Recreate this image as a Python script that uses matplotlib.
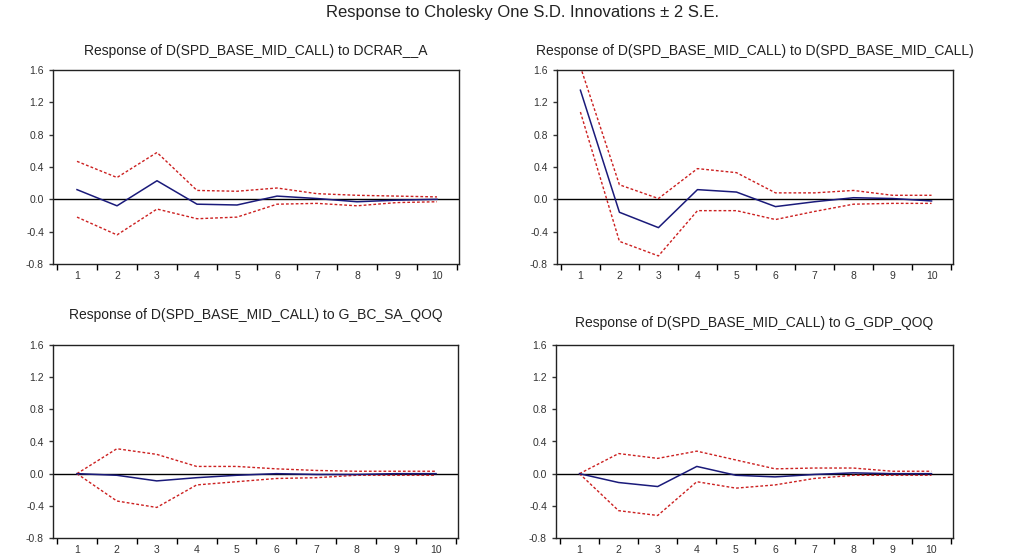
import matplotlib
matplotlib.use("Agg")
import matplotlib.pyplot as plt
import numpy as np

plt.rcParams['font.family'] = ['Liberation Sans', 'DejaVu Sans']

periods = [1, 2, 3, 4, 5, 6, 7, 8, 9, 10]

main_title = "Response to Cholesky One S.D. Innovations \u00b1 2 S.E."
titles = [
    "Response of D(SPD_BASE_MID_CALL) to DCRAR__A",
    "Response of D(SPD_BASE_MID_CALL) to D(SPD_BASE_MID_CALL)",
    "Response of D(SPD_BASE_MID_CALL) to G_BC_SA_QOQ",
    "Response of D(SPD_BASE_MID_CALL) to G_GDP_QOQ",
]

# Panel 1: DCRAR__A
resp_dcrar = [0.12, -0.08, 0.23, -0.06, -0.07, 0.04, 0.01, -0.03, -0.01, 0.00]
upper_dcrar = [0.47, 0.27, 0.58, 0.11, 0.10, 0.14, 0.07, 0.05, 0.04, 0.03]
lower_dcrar = [-0.22, -0.44, -0.12, -0.24, -0.22, -0.06, -0.05, -0.08, -0.04, -0.03]

# Panel 2: D(SPD_BASE_MID_CALL)
resp_spd = [1.35, -0.16, -0.35, 0.12, 0.09, -0.09, -0.03, 0.02, 0.01, -0.02]
upper_spd = [1.64, 0.18, 0.01, 0.38, 0.33, 0.08, 0.08, 0.11, 0.05, 0.05]
lower_spd = [1.08, -0.52, -0.70, -0.14, -0.14, -0.25, -0.15, -0.06, -0.05, -0.05]

# Panel 3: G_BC_SA_QOQ
resp_bc = [0.00, -0.02, -0.09, -0.05, -0.02, 0.00, -0.01, -0.01, 0.00, 0.00]
upper_bc = [0.00, 0.31, 0.24, 0.09, 0.09, 0.06, 0.04, 0.03, 0.03, 0.03]
lower_bc = [0.00, -0.34, -0.42, -0.14, -0.10, -0.06, -0.05, -0.02, -0.02, -0.02]

# Panel 4: G_GDP_QOQ
resp_gdp = [0.00, -0.11, -0.16, 0.09, -0.02, -0.04, -0.01, 0.01, 0.00, 0.00]
upper_gdp = [0.00, 0.25, 0.19, 0.28, 0.17, 0.06, 0.07, 0.07, 0.03, 0.03]
lower_gdp = [0.00, -0.46, -0.52, -0.10, -0.18, -0.14, -0.06, -0.02, -0.02, -0.02]

y_ticks = [-0.8, -0.4, 0.0, 0.4, 0.8, 1.2, 1.6]
y_ticklabels = ["-0.8", "-0.4", "0.0", "0.4", "0.8", "1.2", "1.6"]

panels = [
    (resp_dcrar, upper_dcrar, lower_dcrar),
    (resp_spd, upper_spd, lower_spd),
    (resp_bc, upper_bc, lower_bc),
    (resp_gdp, upper_gdp, lower_gdp),
]

W, H = 1022, 556
fig = plt.figure(figsize=(W / 100, H / 100), dpi=100)

# axes boxes in pixels: left, right, top, bottom
boxes = [
    (53, 459, 70, 264),
    (557, 953, 70, 264),
    (53, 458, 345, 538),
    (556, 953, 345, 538),
]
title_pads = [11, 11, 19, 13]

for i, ((resp, up, lo), (l, r, t, b)) in enumerate(zip(panels, boxes)):
    ax = fig.add_axes([l / W, 1 - b / H, (r - l) / W, (b - t) / H])
    ax.axhline(0, color='black', lw=1.0, zorder=1)
    ax.plot(periods, up, color='#cc2020', lw=1.0, ls=(0, (2, 1.5)), zorder=2)
    ax.plot(periods, lo, color='#cc2020', lw=1.0, ls=(0, (2, 1.5)), zorder=2)
    ax.plot(periods, resp, color='#1a1a7a', lw=1.1, zorder=3)
    ax.set_xlim(0.4, 10.55)
    ax.set_ylim(-0.8, 1.6)
    ax.set_yticks(y_ticks)
    ax.set_yticklabels(y_ticklabels)
    ax.set_xticks(np.arange(0.5, 11, 1.0))
    ax.set_xticklabels([])
    ax.set_xticks(periods, minor=True)
    ax.set_xticklabels([str(p) for p in periods], minor=True)
    ax.tick_params(axis='x', which='major', direction='out', length=4, width=1.0)
    ax.tick_params(axis='x', which='minor', length=0, pad=5, labelsize=7.5, colors='#333333')
    ax.tick_params(axis='y', direction='out', length=3, width=1.0, labelsize=7.5, colors='#333333')
    for s in ax.spines.values():
        s.set_linewidth(1.0)
        s.set_color('#222222')
    ax.set_title(titles[i], fontsize=10, pad=title_pads[i], color='#222222')

fig.text(522 / W, 1 - 13 / H, main_title, ha='center', va='center', fontsize=12, color='#222222')

fig.savefig('out.png', dpi=100)
